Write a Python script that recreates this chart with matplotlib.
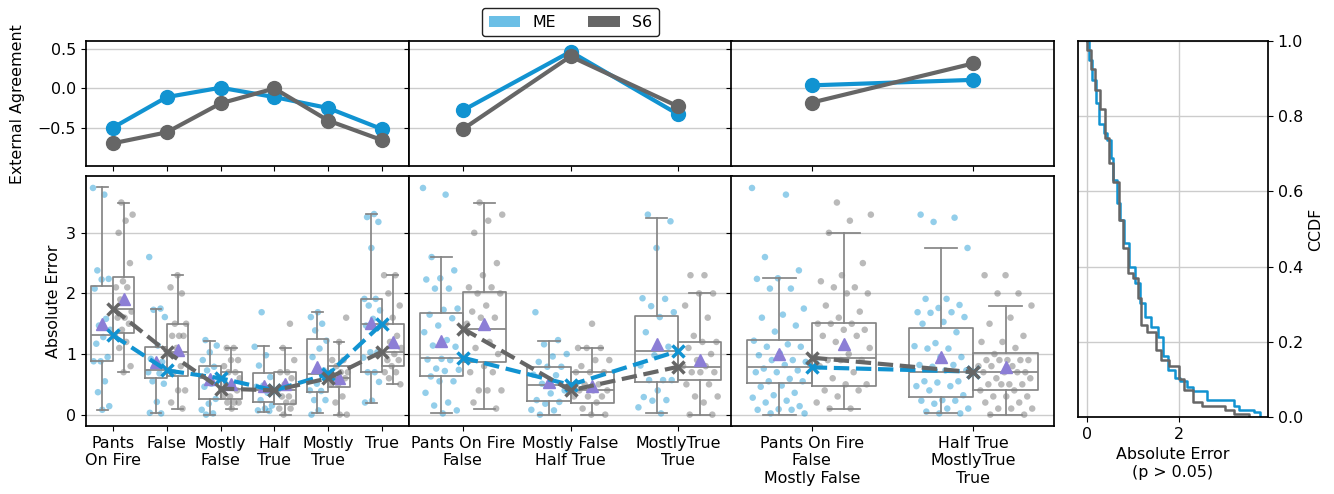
import matplotlib

matplotlib.use("Agg")
import matplotlib.pyplot as plt
from matplotlib.patches import Patch
import numpy as np

plt.rcParams.update({"font.family": "DejaVu Sans", "font.size": 11.4, "axes.linewidth": 1.25})

ME_LINE = "#1193d1"
S6_LINE = "#666666"
MEAN_CLR = "#8c7ed6"
BOX_CLR = "#858585"
GRID_CLR = "#cccccc"

# ---- panel with six labels -------------------------------------------------
cats_6 = ["Pants\nOn Fire", "False", "Mostly\nFalse", "Half\nTrue", "Mostly\nTrue", "True"]
agree_me_6 = [-0.50, -0.11, 0.01, -0.11, -0.25, -0.52]
agree_s6_6 = [-0.70, -0.56, -0.19, 0.00, -0.41, -0.66]
# box stats per category: (whislo, q1, med, q3, whishi, mean)
box_me_6 = [(0.08, 0.89, 1.31, 2.12, 3.75, 1.49), (0.02, 0.61, 0.73, 1.12, 1.75, 0.87),
            (0.00, 0.26, 0.60, 0.80, 1.22, 0.58), (0.04, 0.21, 0.40, 0.68, 1.13, 0.48),
            (0.02, 0.37, 0.67, 1.24, 1.69, 0.79), (0.20, 0.71, 1.50, 1.91, 3.31, 1.51)]
box_s6_6 = [(0.70, 1.35, 1.75, 2.27, 3.50, 1.91), (0.10, 0.63, 1.04, 1.49, 2.30, 1.06),
            (0.10, 0.26, 0.43, 0.70, 1.10, 0.51), (0.00, 0.17, 0.40, 0.70, 1.10, 0.51),
            (0.00, 0.45, 0.60, 0.80, 1.20, 0.61), (0.50, 0.80, 1.04, 1.49, 2.30, 1.20)]
pts_me_6 = [
    [3.74, 3.63, 2.38, 2.24, 2.23, 2.08, 1.58, 1.47, 1.40, 1.28, 1.17, 0.95, 0.88, 0.88, 0.55, 0.37, 0.14, 0.08],
    [2.60, 1.75, 1.73, 1.61, 1.14, 0.92, 0.87, 0.81, 0.70, 0.68, 0.55, 0.51, 0.21, 0.03, 0.02],
    [1.23, 1.14, 1.03, 0.90, 0.79, 0.73, 0.59, 0.51, 0.46, 0.26, 0.18, 0.08, 0.02, 0.00],
    [1.69, 1.12, 0.98, 0.81, 0.62, 0.48, 0.46, 0.36, 0.24, 0.15, 0.10, 0.07, 0.06],
    [1.69, 1.61, 1.50, 1.39, 1.22, 1.09, 0.95, 0.73, 0.51, 0.40, 0.39, 0.24, 0.24, 0.07, 0.00],
    [3.31, 3.26, 3.18, 2.75, 1.91, 1.91, 1.80, 1.72, 1.58, 1.47, 1.03, 1.03, 0.94, 0.70, 0.70, 0.54, 0.23, 0.20],
]
pts_s6_6 = [
    [3.5, 3.3, 3.2, 3.0, 2.5, 2.2, 2.1, 2.1, 1.9, 1.7, 1.6, 1.6, 1.5, 1.4, 1.3, 1.2, 1.1, 0.8, 0.7],
    [2.3, 2.1, 2.0, 1.5, 1.5, 1.3, 1.3, 1.3, 1.1, 1.0, 0.8, 0.7, 0.4, 0.4, 0.2, 0.1],
    [1.1, 1.1, 0.9, 0.9, 0.8, 0.7, 0.7, 0.6, 0.5, 0.5, 0.4, 0.3, 0.3, 0.2, 0.2, 0.2, 0.1],
    [1.5, 1.1, 0.9, 0.7, 0.7, 0.6, 0.5, 0.4, 0.3, 0.3, 0.2, 0.2, 0.1, 0.1, 0.0],
    [1.6, 1.2, 0.9, 0.9, 0.8, 0.7, 0.7, 0.6, 0.6, 0.5, 0.5, 0.3, 0.2, 0.0, 0.0],
    [2.3, 2.3, 2.0, 1.8, 1.6, 1.5, 1.3, 1.2, 1.1, 1.0, 0.9, 0.9, 0.8, 0.7, 0.7, 0.6, 0.5],
]

# ---- panel with three merged labels ----------------------------------------
cats_3 = ["Pants On Fire\nFalse", "Mostly False\nHalf True", "MostlyTrue\nTrue"]
agree_me_3 = [-0.28, 0.47, -0.33]
agree_s6_3 = [-0.52, 0.41, -0.23]
box_me_3 = [(0.02, 0.64, 0.94, 1.68, 2.60, 1.21), (0.00, 0.23, 0.49, 0.78, 1.21, 0.54),
            (0.02, 0.54, 1.05, 1.63, 3.25, 1.17)]
box_s6_3 = [(0.10, 0.87, 1.42, 2.02, 3.49, 1.50), (0.00, 0.20, 0.40, 0.70, 1.10, 0.48),
            (0.00, 0.57, 0.79, 1.20, 2.00, 0.90)]
pts_me_3 = [
    [3.74, 3.63, 2.60, 2.38, 2.25, 2.23, 2.08, 2.08, 1.75, 1.73, 1.65, 1.59, 1.47, 1.36, 1.23, 1.14,
     1.12, 0.92, 0.91, 0.90, 0.76, 0.74, 0.72, 0.63, 0.55, 0.55, 0.36, 0.20, 0.15, 0.07, 0.02],
    [1.69, 1.23, 1.16, 1.00, 0.96, 0.87, 0.79, 0.79, 0.66, 0.65, 0.51, 0.40, 0.35, 0.24, 0.21, 0.18,
     0.08, 0.07, 0.00],
    [3.30, 3.19, 2.75, 1.92, 1.91, 1.79, 1.69, 1.61, 1.36, 1.12, 0.98, 0.81, 0.57, 0.57, 0.57, 0.40,
     0.29, 0.24, 0.23, 0.12, 0.02],
]
pts_s6_3 = [
    [3.5, 3.3, 3.2, 3.0, 2.5, 2.3, 2.1, 2.1, 2.0, 2.0, 1.8, 1.7, 1.6, 1.6, 1.5, 1.2, 1.1, 1.0, 0.8,
     0.7, 0.7, 0.4, 0.4, 0.4, 0.2, 0.1],
    [1.5, 1.1, 1.1, 1.1, 0.9, 0.9, 0.8, 0.7, 0.7, 0.7, 0.5, 0.5, 0.4, 0.4, 0.4, 0.3, 0.3, 0.3, 0.2,
     0.1, 0.0, 0.0],
    [2.3, 2.3, 2.0, 2.0, 1.8, 1.6, 1.3, 1.2, 1.2, 1.1, 1.0, 0.9, 0.8, 0.8, 0.7, 0.7, 0.7, 0.5, 0.5,
     0.3, 0.3, 0.2, 0.0, 0.0],
]

# ---- panel with two merged labels ------------------------------------------
cats_2 = ["Pants On Fire\nFalse\nMostly False", "Half True\nMostlyTrue\nTrue"]
agree_me_2 = [0.04, 0.11]
agree_s6_2 = [-0.18, 0.32]
box_me_2 = [(0.00, 0.53, 0.78, 1.23, 2.25, 1.00), (0.02, 0.29, 0.71, 1.43, 2.75, 0.95)]
box_s6_2 = [(0.10, 0.47, 0.94, 1.52, 3.00, 1.17), (0.00, 0.40, 0.70, 1.02, 1.80, 0.78)]
pts_me_2 = [
    [3.74, 3.63, 2.60, 2.38, 2.25, 2.24, 2.08, 2.08, 1.75, 1.65, 1.60, 1.47, 1.37, 1.22, 1.16, 1.12,
     1.12, 1.01, 0.98, 0.90, 0.90, 0.87, 0.82, 0.76, 0.73, 0.70, 0.70, 0.59, 0.55, 0.55, 0.48, 0.46,
     0.36, 0.32, 0.28, 0.23, 0.20, 0.14, 0.09, 0.08, 0.08, 0.02, 0.02],
    [3.30, 3.25, 3.18, 2.75, 1.91, 1.91, 1.81, 1.76, 1.69, 1.69, 1.68, 1.61, 1.53, 1.50, 1.36, 1.18,
     1.13, 1.09, 1.09, 0.95, 0.95, 0.82, 0.82, 0.79, 0.73, 0.73, 0.55, 0.55, 0.53, 0.47, 0.47, 0.40,
     0.32, 0.24, 0.23, 0.23, 0.18, 0.10, 0.10, 0.05, 0.02, 0.02],
]
pts_s6_2 = [
    [3.5, 3.3, 3.2, 3.0, 2.5, 2.3, 2.2, 2.1, 2.1, 2.0, 2.0, 1.8, 1.7, 1.6, 1.5, 1.5, 1.5, 1.4, 1.4,
     1.3, 1.3, 1.2, 1.1, 1.0, 0.9, 0.9, 0.9, 0.8, 0.7, 0.6, 0.5, 0.5, 0.4, 0.4, 0.3, 0.2, 0.1, 0.1],
    [2.3, 2.3, 2.0, 2.0, 1.8, 1.6, 1.5, 1.3, 1.2, 1.2, 1.1, 1.0, 0.9, 0.9, 0.9, 0.9, 0.9, 0.8, 0.8,
     0.8, 0.7, 0.7, 0.7, 0.7, 0.6, 0.6, 0.5, 0.5, 0.5, 0.5, 0.4, 0.4, 0.3, 0.3, 0.3, 0.2, 0.2, 0.1,
     0.1, 0.1, 0.0, 0.0],
]

# ---- CCDF of absolute error (step curves) ----------------------------------
ccdf_me_x = [0.0, 0.05, 0.12, 0.20, 0.27, 0.38, 0.45, 0.53, 0.58, 0.67, 0.72, 0.82, 0.93, 1.04, 1.15,
             1.26, 1.40, 1.55, 1.66, 1.77, 1.91, 2.02, 2.17, 2.31, 2.61, 3.19, 3.30, 3.63, 3.76]
ccdf_me_y = [1.0, 0.95, 0.896, 0.834, 0.78, 0.754, 0.736, 0.69, 0.63, 0.568, 0.524, 0.462, 0.40, 0.356,
             0.303, 0.267, 0.24, 0.214, 0.161, 0.126, 0.104, 0.095, 0.081, 0.068, 0.046, 0.030, 0.019,
             0.012, 0.0]
ccdf_s6_x = [0.0, 0.01, 0.09, 0.18, 0.28, 0.39, 0.49, 0.58, 0.71, 0.80, 0.89, 1.00, 1.11, 1.18, 1.31,
             1.51, 1.62, 1.79, 2.00, 2.11, 2.30, 2.50, 3.00, 3.19, 3.52]
ccdf_s6_y = [1.0, 0.975, 0.925, 0.869, 0.818, 0.743, 0.676, 0.626, 0.524, 0.449, 0.382, 0.369, 0.316,
             0.245, 0.227, 0.179, 0.152, 0.135, 0.100, 0.073, 0.040, 0.030, 0.019, 0.009, 0.0]


def _jitter(n, width, shift):
    # deterministic spread of dots across the box width
    frac = (np.arange(n) * 0.6180339887 + shift) % 1.0
    return (2.0 * frac - 1.0) * width


def _stats(rows):
    return [dict(whislo=r[0], q1=r[1], med=r[2], q3=r[3], whishi=r[4], mean=r[5], fliers=[])
            for r in rows]


fig = plt.figure(figsize=(13.34, 4.94), dpi=100)

col_left = [86 / 1334, 409 / 1334, 731 / 1334]
col_w = 323 / 1334
top_rect_y, top_rect_h = 1 - 166 / 494, 124.5 / 494
bot_rect_y, bot_rect_h = 1 - 426 / 494, 250 / 494

panels = [
    (cats_6, agree_me_6, agree_s6_6, box_me_6, box_s6_6, pts_me_6, pts_s6_6),
    (cats_3, agree_me_3, agree_s6_3, box_me_3, box_s6_3, pts_me_3, pts_s6_3),
    (cats_2, agree_me_2, agree_s6_2, box_me_2, box_s6_2, pts_me_2, pts_s6_2),
]
line_kw = dict(color=BOX_CLR, lw=1.25)

ax_top0 = ax_bot0 = None
for i, (cats, a_me, a_s6, b_me, b_s6, p_me, p_s6) in enumerate(panels):
    ax_t = fig.add_axes([col_left[i], top_rect_y, col_w, top_rect_h], sharey=ax_top0)
    ax_b = fig.add_axes([col_left[i], bot_rect_y, col_w, bot_rect_h], sharex=ax_t, sharey=ax_bot0)
    if ax_top0 is None:
        ax_top0, ax_bot0 = ax_t, ax_b
    x = np.arange(len(cats))

    # top: external agreement
    ax_t.plot(x, a_me, color=ME_LINE, lw=3, marker="o", ms=10, zorder=3)
    ax_t.plot(x, a_s6, color=S6_LINE, lw=3, marker="o", ms=10, zorder=4)
    ax_t.set_xlim(-0.5, len(cats) - 0.5)
    ax_t.set_ylim(-0.99, 0.6)
    ax_t.set_yticks([-0.5, 0.0, 0.5])
    ax_t.set_xticks(x)
    ax_t.tick_params(labelbottom=False)
    ax_t.grid(axis="y", color=GRID_CLR, lw=1)
    ax_t.set_axisbelow(True)

    # bottom: absolute error distributions
    for k in range(len(cats)):
        ax_b.scatter(x[k] - 0.2 + _jitter(len(p_me[k]), 0.17, 0.13 * k), p_me[k], s=22,
                     color=ME_LINE, alpha=0.45, edgecolors="none", zorder=1)
        ax_b.scatter(x[k] + 0.2 + _jitter(len(p_s6[k]), 0.17, 0.37 + 0.13 * k), p_s6[k], s=22,
                     color=S6_LINE, alpha=0.45, edgecolors="none", zorder=1)
    for rows, off in ((b_me, -0.2), (b_s6, 0.2)):
        ax_b.bxp(_stats(rows), positions=x + off, widths=0.4, showmeans=True, showfliers=False,
                 boxprops=line_kw, whiskerprops=line_kw, capprops=line_kw, medianprops=line_kw,
                 meanprops=dict(marker="^", markerfacecolor=MEAN_CLR, markeredgecolor=MEAN_CLR, ms=8.5),
                 manage_ticks=False, zorder=2)
    med_me = [r[2] for r in b_me]
    med_s6 = [r[2] for r in b_s6]
    ax_b.plot(x, med_me, color=ME_LINE, lw=3, ls="--", marker="x", ms=8, mew=2.5, zorder=5)
    ax_b.plot(x, med_s6, color=S6_LINE, lw=3, ls="--", marker="x", ms=8, mew=2.5, zorder=6)
    ax_b.set_ylim(-0.1875, 3.9375)
    ax_b.set_yticks([0, 1, 2, 3])
    ax_b.set_xticks(x)
    ax_b.set_xticklabels(cats)
    ax_b.grid(axis="y", color=GRID_CLR, lw=1)
    ax_b.set_axisbelow(True)

    if i == 0:
        ax_t.set_ylabel("External Agreement", labelpad=9)
        ax_b.set_ylabel("Absolute Error")
    else:
        ax_t.tick_params(labelleft=False)
        ax_b.tick_params(labelleft=False)
    if i == 1:
        handles = [Patch(facecolor="#6bbfe6", label="ME"), Patch(facecolor=S6_LINE, label="S6")]
        ax_t.legend(handles=handles, loc="lower center", bbox_to_anchor=(0.5, 1.0), ncol=2,
                    borderaxespad=0.35, edgecolor="#222222", framealpha=1, handlelength=2.0)

# CCDF panel
ax_c = fig.add_axes([1078 / 1334, 1 - 417 / 494, 190 / 1334, 376 / 494])
ax_c.step(ccdf_me_x, ccdf_me_y, where="post", color=ME_LINE, lw=1.8)
ax_c.step(ccdf_s6_x, ccdf_s6_y, where="post", color=S6_LINE, lw=1.8)
ax_c.set_xlim(-0.1875, 3.9375)
ax_c.set_ylim(0, 1)
ax_c.set_xticks([0, 2])
ax_c.set_yticks([0.0, 0.2, 0.4, 0.6, 0.8, 1.0])
ax_c.yaxis.tick_right()
ax_c.yaxis.set_label_position("right")
ax_c.set_ylabel("CCDF")
ax_c.set_xlabel("Absolute Error\n(p > 0.05)")
ax_c.grid(True, color=GRID_CLR, lw=1)
ax_c.set_axisbelow(True)

fig.savefig("out.png", dpi=100)
plt.close(fig)
